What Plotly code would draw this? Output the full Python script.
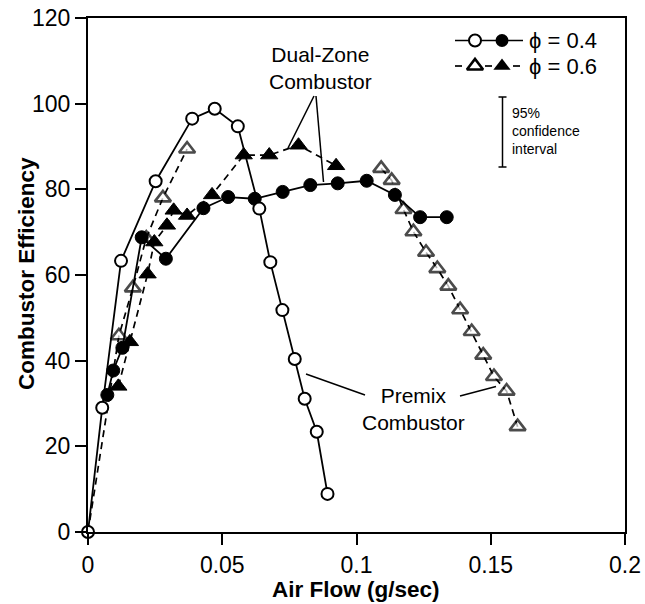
import plotly.graph_objects as go

# ---------------- data ----------------
# Premix combustor, phi = 0.4 (open circles, solid line)
premix04_x = [0.0, 0.0053, 0.0123, 0.0252, 0.0388, 0.0472, 0.0558, 0.0638, 0.0679,
              0.0724, 0.0770, 0.0807, 0.0852, 0.0892]
premix04_y = [0.0, 29.0, 63.3, 81.9, 96.5, 98.8, 94.7, 75.5, 63.0,
              51.8, 40.4, 31.1, 23.4, 8.9]

# Premix combustor, phi = 0.6 (open triangles, dashed line, gap in the middle)
premix06_x = [0.0, 0.0115, 0.0167, 0.0217, 0.0279, 0.0369, None,
              0.1092, 0.1131, 0.1175, 0.1212, 0.1259, 0.1301, 0.1342, 0.1386,
              0.1429, 0.1472, 0.1512, 0.1559, 0.1600]
premix06_y = [0.0, 45.8, 57.0, 68.6, 78.0, 89.4, None,
              84.9, 82.1, 75.3, 70.1, 65.3, 61.5, 57.4, 51.9,
              46.8, 41.3, 36.3, 32.9, 24.6]

# Dual-zone combustor, phi = 0.4 (filled circles, solid line)
dual04_x = [0.0072, 0.0094, 0.0128, 0.0200, 0.0290, 0.0430, 0.0522, 0.0621,
            0.0725, 0.0828, 0.0930, 0.1038, 0.1143, 0.1237, 0.1336]
dual04_y = [32.0, 37.7, 43.0, 68.8, 63.8, 75.6, 78.2, 77.8,
            79.4, 81.0, 81.4, 82.0, 78.7, 73.5, 73.5]

# Dual-zone combustor, phi = 0.6 (filled triangles, dashed line)
dual06_x = [0.0113, 0.0156, 0.0222, 0.0247, 0.0294, 0.0319, 0.0369, 0.0462,
            0.0580, 0.0675, 0.0784, 0.0924]
dual06_y = [34.0, 44.4, 60.2, 67.7, 71.6, 75.1, 73.9, 78.7,
            88.0, 88.0, 90.3, 85.5]

x_ticks = [0, 0.05, 0.1, 0.15, 0.2]
x_tick_labels = ["0", "0.05", "0.1", "0.15", "0.2"]
y_ticks = [0, 20, 40, 60, 80, 100, 120]

FONT = "Liberation Sans, Arial, Helvetica, sans-serif"
BLACK = "#000000"

fig = go.Figure()

# premix phi=0.6 : open triangles, dashed (origin point has no marker)
tri_sizes = [0] + [14] * (len(premix06_x) - 1)
fig.add_trace(go.Scatter(
    x=premix06_x, y=premix06_y, mode="lines+markers", connectgaps=False,
    line=dict(color=BLACK, width=1.7, dash="7px,5px"),
    marker=dict(symbol="triangle-up", size=tri_sizes, color="white",
                line=dict(color=BLACK, width=2.6)),
    cliponaxis=False, showlegend=False))

# dual phi=0.6 : filled triangles, dashed
fig.add_trace(go.Scatter(
    x=dual06_x, y=dual06_y, mode="lines+markers",
    line=dict(color=BLACK, width=1.7, dash="7px,5px"),
    marker=dict(symbol="triangle-up", size=15, color=BLACK,
                line=dict(color=BLACK, width=1)),
    cliponaxis=False, showlegend=False))

# dual phi=0.4 : filled circles, solid
fig.add_trace(go.Scatter(
    x=dual04_x, y=dual04_y, mode="lines+markers",
    line=dict(color=BLACK, width=1.8),
    marker=dict(symbol="circle", size=13, color=BLACK,
                line=dict(color=BLACK, width=1)),
    cliponaxis=False, showlegend=False))

# premix phi=0.4 : open circles, solid
fig.add_trace(go.Scatter(
    x=premix04_x, y=premix04_y, mode="lines+markers",
    line=dict(color=BLACK, width=1.8),
    marker=dict(symbol="circle", size=12, color="white",
                line=dict(color=BLACK, width=2)),
    cliponaxis=False, showlegend=False))

# ---------------- legend (drawn on a pixel-unit overlay axis) ----------------
ROW1, ROW2 = 40.5, 66
fig.add_trace(go.Scatter(x=[455, 523], y=[ROW1, ROW1], xaxis="x2", yaxis="y2",
                         mode="lines", line=dict(color=BLACK, width=1.7),
                         showlegend=False, hoverinfo="skip"))
fig.add_trace(go.Scatter(x=[475], y=[ROW1], xaxis="x2", yaxis="y2", mode="markers",
                         marker=dict(symbol="circle", size=12, color="white",
                                     line=dict(color=BLACK, width=2)),
                         showlegend=False, hoverinfo="skip"))
fig.add_trace(go.Scatter(x=[502], y=[ROW1], xaxis="x2", yaxis="y2", mode="markers",
                         marker=dict(symbol="circle", size=13, color=BLACK),
                         showlegend=False, hoverinfo="skip"))
fig.add_trace(go.Scatter(x=[455, 462, None, 485, 492, None, 513, 520],
                         y=[ROW2, ROW2, None, ROW2, ROW2, None, ROW2, ROW2],
                         xaxis="x2", yaxis="y2",
                         mode="lines", line=dict(color=BLACK, width=1.7),
                         showlegend=False, hoverinfo="skip"))
fig.add_trace(go.Scatter(x=[475], y=[ROW2], xaxis="x2", yaxis="y2", mode="markers",
                         marker=dict(symbol="triangle-up", size=14, color="white",
                                     line=dict(color=BLACK, width=2.6)),
                         showlegend=False, hoverinfo="skip"))
fig.add_trace(go.Scatter(x=[502], y=[ROW2], xaxis="x2", yaxis="y2", mode="markers",
                         marker=dict(symbol="triangle-up", size=15, color=BLACK),
                         showlegend=False, hoverinfo="skip"))

shapes = [
    # 95% confidence interval bar
    dict(type="line", xref="x2", yref="y2", x0=502.5, x1=502.5, y0=97, y1=167,
         line=dict(color=BLACK, width=1.5)),
    dict(type="line", xref="x2", yref="y2", x0=498.5, x1=506.5, y0=97, y1=97,
         line=dict(color=BLACK, width=1.5)),
    dict(type="line", xref="x2", yref="y2", x0=498.5, x1=506.5, y0=167, y1=167,
         line=dict(color=BLACK, width=1.5)),
    # Dual-Zone pointers
    dict(type="line", xref="x2", yref="y2", x0=314, y0=96, x1=288, y1=148,
         line=dict(color=BLACK, width=1.5)),
    dict(type="line", xref="x2", yref="y2", x0=316, y0=96, x1=323.5, y1=182,
         line=dict(color=BLACK, width=1.5)),
    # Premix pointers
    dict(type="line", xref="x2", yref="y2", x0=306, y0=374, x1=365, y1=395,
         line=dict(color=BLACK, width=1.5)),
    dict(type="line", xref="x2", yref="y2", x0=460, y0=396, x1=496, y1=386.5,
         line=dict(color=BLACK, width=1.5)),
]

annotations = [
    dict(xref="x2", yref="y2", x=527, y=ROW1, text="ϕ = 0.4", showarrow=False,
         xanchor="left", yanchor="middle", font=dict(size=22, color=BLACK, family=FONT)),
    dict(xref="x2", yref="y2", x=527, y=ROW2, text="ϕ = 0.6", showarrow=False,
         xanchor="left", yanchor="middle", font=dict(size=22, color=BLACK, family=FONT)),
    dict(xref="x2", yref="y2", x=510, y=131, text="95%<br>confidence<br>interval",
         showarrow=False, xanchor="left", yanchor="middle", align="left",
         font=dict(size=14, color=BLACK, family=FONT)),
    dict(xref="x2", yref="y2", x=320, y=67.5, text="Dual-Zone<br>Combustor",
         showarrow=False, xanchor="center", yanchor="middle", align="center",
         font=dict(size=21, color=BLACK, family=FONT)),
    dict(xref="x2", yref="y2", x=413, y=409, text="Premix<br>Combustor",
         showarrow=False, xanchor="center", yanchor="middle", align="center",
         font=dict(size=21, color=BLACK, family=FONT)),
    # axis titles (paper coordinates, they lie outside the plot area)
    dict(xref="paper", yref="paper", x=(356 - 88) / 537, y=(532 - 589) / 514,
         text="<b>Air Flow (g/sec)</b>", showarrow=False,
         xanchor="center", yanchor="middle",
         font=dict(size=22.5, color=BLACK, family=FONT)),
    dict(xref="paper", yref="paper", x=(26 - 88) / 537, y=(532 - 274) / 514,
         text="<b>Combustor Efficiency</b>", showarrow=False,
         xanchor="center", yanchor="middle", textangle=-90,
         font=dict(size=22.5, color=BLACK, family=FONT)),
]

fig.update_layout(
    width=645, height=604,
    margin=dict(l=88, r=20, t=18, b=72, autoexpand=False),
    paper_bgcolor="white", plot_bgcolor="white",
    font=dict(family=FONT, color=BLACK, size=21),
    xaxis=dict(range=[0, 0.2], tickvals=x_ticks, ticktext=x_tick_labels,
               ticks="outside", ticklen=11, tickwidth=2, tickcolor=BLACK,
               showline=True, linecolor=BLACK, linewidth=2, mirror=True,
               showgrid=False, zeroline=False,
               tickfont=dict(size=23, color=BLACK, family=FONT)),
    yaxis=dict(range=[0, 120], tickvals=y_ticks,
               ticks="outside", ticklen=11, tickwidth=2, tickcolor=BLACK,
               showline=True, linecolor=BLACK, linewidth=2, mirror=True,
               showgrid=False, zeroline=False,
               tickfont=dict(size=23, color=BLACK, family=FONT)),
    xaxis2=dict(overlaying="x", anchor="y2", range=[88, 625], visible=False,
                showgrid=False, zeroline=False),
    yaxis2=dict(overlaying="y", anchor="x2", range=[532, 18], visible=False,
                showgrid=False, zeroline=False),
    shapes=shapes,
    annotations=annotations,
)

fig.write_html("out.html")
